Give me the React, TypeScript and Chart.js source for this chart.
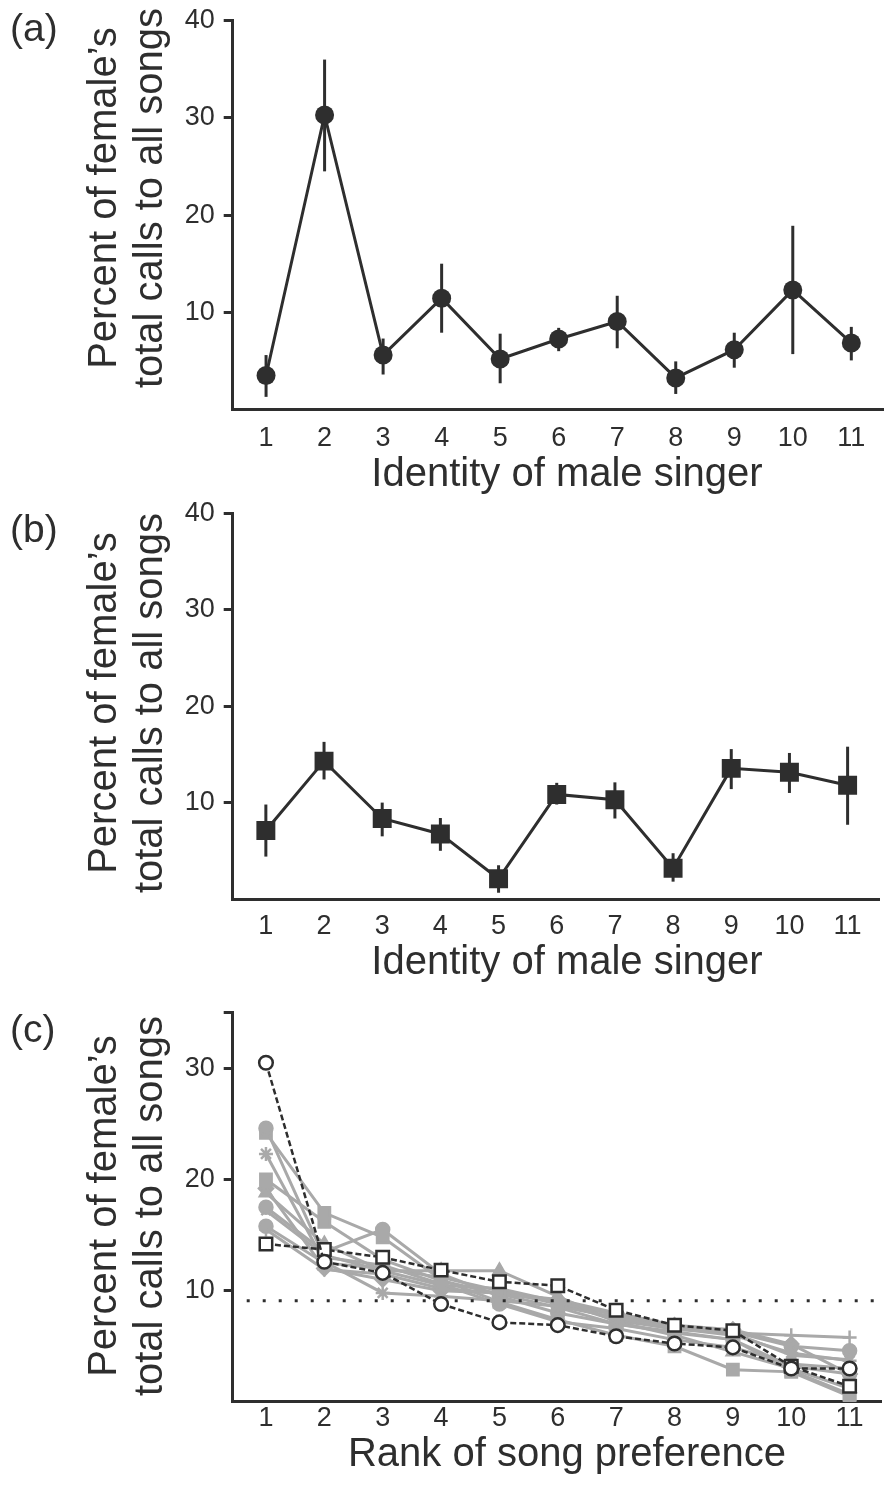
import React, { useEffect, useRef } from 'react';
import { Chart, registerables } from 'chart.js';

Chart.register(...registerables);

// ---------------- data ----------------
const singers = [1, 2, 3, 4, 5, 6, 7, 8, 9, 10, 11];
const meanA = [3.5, 30.3, 5.6, 11.45, 5.2, 7.25, 9.05, 3.25, 6.15, 12.3, 6.85];
const highA = [5.6, 36.0, 7.3, 15.0, 7.8, 8.4, 11.7, 4.95, 7.9, 18.9, 8.5];
const lowA = [1.3, 24.5, 3.6, 7.9, 2.7, 6.0, 6.3, 1.6, 4.3, 5.7, 5.05];

const meanB = [7.1, 14.3, 8.35, 6.75, 2.1, 10.85, 10.3, 3.2, 13.55, 13.15, 11.8];
const highB = [9.8, 16.3, 10.0, 8.4, 3.5, 12.05, 12.1, 4.75, 15.55, 15.15, 15.8];
const lowB = [4.4, 12.4, 6.5, 5.0, 0.65, 9.8, 8.35, 1.8, 11.4, 11.0, 7.7];

const ranks = [1, 2, 3, 4, 5, 6, 7, 8, 9, 10, 11];
const femaleOpenCircle = [30.5, 12.6, 11.6, 8.8, 7.15, 6.9, 5.9, 5.25, 4.9, 3.0, 3.0];
const femaleOpenSquare = [14.2, 13.7, 13.0, 11.85, 10.8, 10.45, 8.25, 6.9, 6.4, 3.2, 1.4];

const gray1 = [24.6, 13.0, 12.3, 10.6, 8.8, 7.2, 6.6, 5.6, 4.9, 3.4, 3.0];
const gray2 = [24.2, 17.0, 14.8, 11.0, 9.0, 7.4, 6.0, 5.0, 2.9, 2.7, 0.5];
const gray3 = [22.3, 12.6, 9.8, 9.5, 9.1, 8.6, 7.6, 6.6, 6.0, 4.4, 3.7];
const gray4 = [20.0, 16.2, 12.8, 10.9, 9.7, 8.5, 7.0, 6.3, 5.6, 2.8, 0.7];
const gray5 = [17.5, 13.5, 15.5, 11.5, 9.5, 8.0, 7.0, 6.2, 5.6, 3.2, 2.5];
const gray6 = [18.8, 14.2, 11.8, 11.8, 11.8, 9.5, 7.2, 6.0, 4.5, 3.0, 1.2];
const gray7 = [15.5, 11.9, 11.5, 10.2, 9.8, 9.0, 7.8, 6.8, 6.2, 6.0, 5.8];
const gray8 = [19.2, 12.0, 11.0, 10.0, 9.8, 9.2, 8.0, 6.9, 6.5, 5.2, 2.5];
const gray9 = [15.8, 12.5, 12.0, 11.2, 10.0, 8.8, 7.5, 6.5, 6.3, 5.0, 4.6];
const gray10 = [17.2, 13.2, 11.8, 10.5, 10.2, 9.0, 7.3, 6.6, 6.2, 4.2, 3.8];

const grayPointStyles = ['circle', 'rect', 'star', 'rect', 'circle', 'triangle', 'cross', 'rectRot', 'circle', 'crossRot'];
const grayPointRadii = [6.5, 8, 7, 8, 6.5, 7, 7, 7, 6.5, 6.5];

const yTicksAB = [10, 20, 30, 40];
const yTicksC = [10, 20, 30, 35];
const chanceLevel = 100 / 11;

// ---------------- styles ----------------
const INK = '#2e2e2e';
const GRAY = '#a9a9a9';
const FONT = "'Liberation Sans', Arial, Helvetica, sans-serif";
const W = 893;
const TICK_SIZE = 27;

const pts = (xs: number[], ys: number[]) => xs.map((x, i) => ({ x, y: ys[i] }));

const annotPlugin = {
  id: 'annot',
  beforeDatasetsDraw(chart: any, _a: any, opts: any) {
    if (!opts || !opts.low) return;
    const ctx = chart.ctx;
    const xs = chart.scales.x;
    const ys = chart.scales.y;
    ctx.save();
    ctx.strokeStyle = INK;
    ctx.lineWidth = 3;
    opts.low.forEach((lo: number, i: number) => {
      const px = xs.getPixelForValue(opts.xs[i]);
      ctx.beginPath();
      ctx.moveTo(px, ys.getPixelForValue(lo));
      ctx.lineTo(px, ys.getPixelForValue(opts.high[i]));
      ctx.stroke();
    });
    ctx.restore();
  },
  afterDraw(chart: any, _a: any, opts: any) {
    if (!opts || !opts.texts) return;
    const ctx = chart.ctx;
    ctx.save();
    ctx.fillStyle = INK;
    ctx.textAlign = 'center';
    ctx.textBaseline = 'middle';
    ctx.font = `40px ${FONT}`;
    opts.texts.forEach((t: any) => {
      ctx.save();
      ctx.translate(t.x, t.y);
      if (t.rot) ctx.rotate(-Math.PI / 2);
      ctx.fillText(t.text, 0, 0);
      ctx.restore();
    });
    ctx.restore();
  },
};

type PanelSpec = {
  top: number;
  height: number;
  areaTop: number;
  areaBottom: number;
  yMax: number;
  yTicks: number[];
  tickPad: number;
  datasets: any[];
  xTitle: string;
  xTitleY: number;
  yTitleY: number;
  errors?: { xs: number[]; low: number[]; high: number[] };
};

function buildConfig(p: PanelSpec): any {
  return {
    type: 'line',
    data: { datasets: p.datasets },
    options: {
      animation: false,
      responsive: false,
      devicePixelRatio: 1,
      events: [],
      layout: { padding: { left: 0, right: 0, top: p.areaTop, bottom: 0 } },
      plugins: {
        legend: { display: false },
        tooltip: { enabled: false },
        annot: {
          ...(p.errors || {}),
          texts: [
            { text: 'Percent of female\u2019s', x: 105.4, y: p.yTitleY, rot: true },
            { text: 'total calls to all songs', x: 151, y: p.yTitleY, rot: true },
            { text: p.xTitle, x: 567, y: p.xTitleY, rot: false },
          ],
        },
      },
      scales: {
        x: {
          type: 'linear',
          min: 0.43,
          max: 11.55,
          afterBuildTicks: (s: any) => {
            s.ticks = singers.map((v) => ({ value: v }));
          },
          afterFit: (s: any) => {
            s.height = p.height - p.areaBottom;
            s.paddingLeft = 0;
            s.paddingRight = 0;
          },
          grid: { display: false, drawTicks: false, tickLength: 0 },
          border: { display: true, color: INK, width: 3 },
          ticks: {
            color: INK,
            font: { size: TICK_SIZE, family: FONT },
            padding: p.tickPad,
            maxRotation: 0,
            autoSkip: false,
          },
        },
        y: {
          type: 'linear',
          min: 0,
          max: p.yMax,
          afterBuildTicks: (s: any) => {
            s.ticks = p.yTicks.map((v) => ({ value: v }));
          },
          afterFit: (s: any) => {
            s.width = 232.7;
            s.paddingTop = 0;
            s.paddingBottom = 0;
          },
          grid: {
            display: true,
            drawOnChartArea: false,
            drawTicks: true,
            tickLength: 9,
            tickWidth: 3,
            tickColor: INK,
          },
          border: { display: true, color: INK, width: 3 },
          ticks: {
            color: INK,
            font: { size: TICK_SIZE, family: FONT },
            padding: 9,
            callback: (v: number) => (v === 35 ? '' : String(v)),
          },
        },
      },
    },
    plugins: [annotPlugin],
  };
}

const specA: PanelSpec = {
  top: 0,
  height: 500,
  areaTop: 20.7,
  areaBottom: 409.5,
  yMax: 40,
  yTicks: yTicksAB,
  tickPad: 12.8,
  xTitle: 'Identity of male singer',
  xTitleY: 475,
  yTitleY: 198,
  errors: { xs: singers, low: lowA, high: highA },
  datasets: [
    {
      data: pts(singers, meanA),
      borderColor: INK,
      backgroundColor: INK,
      borderWidth: 3,
      pointRadius: 9.5,
      pointStyle: 'circle',
      pointBorderWidth: 0,
      tension: 0,
    },
  ],
};

const specB: PanelSpec = {
  top: 500,
  height: 490,
  areaTop: 10,
  areaBottom: 399,
  yMax: 40,
  yTicks: yTicksAB,
  tickPad: 11.8,
  xTitle: 'Identity of male singer',
  xTitleY: 462.5,
  yTitleY: 203,
  errors: { xs: singers, low: lowB, high: highB },
  datasets: [
    {
      data: pts(singers, meanB),
      borderColor: INK,
      backgroundColor: INK,
      borderWidth: 3,
      pointRadius: 13.4,
      pointStyle: 'rect',
      pointBorderWidth: 0,
      tension: 0,
    },
  ],
};

const grays = [gray1, gray2, gray3, gray4, gray5, gray6, gray7, gray8, gray9, gray10];

const specC: PanelSpec = {
  top: 990,
  height: 500,
  areaTop: 22.7,
  areaBottom: 411.9,
  yMax: 35,
  yTicks: yTicksC,
  tickPad: 0,
  xTitle: 'Rank of song preference',
  xTitleY: 465,
  yTitleY: 216,
  datasets: [
    {
      data: pts(ranks, femaleOpenCircle),
      borderColor: INK,
      borderWidth: 2.5,
      borderDash: [6, 3],
      pointStyle: 'circle',
      pointRadius: 6.8,
      pointBorderWidth: 2.5,
      pointBorderColor: INK,
      pointBackgroundColor: '#ffffff',
      tension: 0,
    },
    {
      data: pts(ranks, femaleOpenSquare),
      borderColor: INK,
      borderWidth: 2.5,
      borderDash: [6, 3],
      pointStyle: 'rect',
      pointRadius: 8.8,
      pointBorderWidth: 2.5,
      pointBorderColor: INK,
      pointBackgroundColor: '#ffffff',
      tension: 0,
    },
    {
      data: [
        { x: 0.67, y: chanceLevel },
        { x: 11.55, y: chanceLevel },
      ],
      borderColor: INK,
      borderWidth: 3,
      borderDash: [3, 13],
      pointRadius: 0,
      tension: 0,
    },
    ...grays.map((g, i) => ({
      data: pts(ranks, g),
      borderColor: GRAY,
      backgroundColor: GRAY,
      borderWidth: 3,
      pointStyle: grayPointStyles[i],
      pointRadius: grayPointRadii[i],
      pointBorderWidth: 2.5,
      pointBorderColor: GRAY,
      pointBackgroundColor: GRAY,
      tension: 0,
    })),
  ],
};

function Panel({ spec }: { spec: PanelSpec }) {
  const ref = useRef<HTMLCanvasElement>(null);
  useEffect(() => {
    if (!ref.current) return;
    const chart = new Chart(ref.current, buildConfig(spec));
    return () => chart.destroy();
  }, []);
  return (
    <canvas
      ref={ref}
      width={W}
      height={spec.height}
      style={{ position: 'absolute', left: 0, top: spec.top, width: W, height: spec.height }}
    />
  );
}

const labelStyle = (top: number): React.CSSProperties => ({
  position: 'absolute',
  left: 10,
  top,
  fontFamily: FONT,
  fontSize: 39,
  lineHeight: '39px',
  color: INK,
  margin: 0,
});

export default function App() {
  return (
    <div style={{ position: 'absolute', left: 0, top: 0, width: W, height: 1490, background: '#fff', overflow: 'hidden' }}>
      <Panel spec={specA} />
      <Panel spec={specB} />
      <Panel spec={specC} />
      <div style={labelStyle(7.5)}>(a)</div>
      <div style={labelStyle(509)}>(b)</div>
      <div style={labelStyle(1009)}>(c)</div>
    </div>
  );
}
